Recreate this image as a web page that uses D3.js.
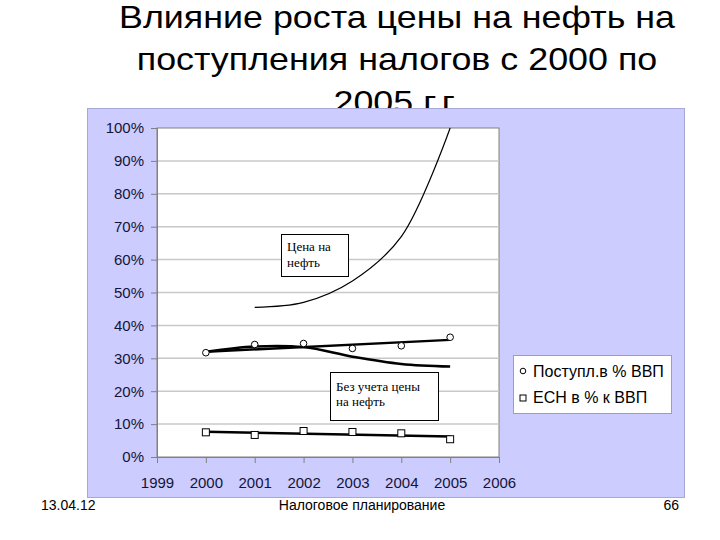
<!DOCTYPE html>
<html><head><meta charset="utf-8">
<script src="https://cdn.jsdelivr.net/npm/d3@7"></script>
<style>body{margin:0;background:#fff;}svg{display:block;}</style>
</head><body>
<script>
const titleLines = ["Влияние роста цены на нефть на", "поступления налогов с 2000 по", "2005 г.г."];
const years = [2000, 2001, 2002, 2003, 2004, 2005];
const revenue = [31.7, 34.2, 34.5, 33.0, 33.8, 36.4];        // Поступл.в % ВВП
const esn = [7.5, 6.7, 7.9, 7.6, 7.2, 5.4];                   // ЕСН в % к ВВП
const trendYears = [2000, 2005];
const revenueTrend = [32.0, 35.6];
const esnTrend = [7.7, 6.2];
const withoutOil = [32.0, 33.6, 33.4, 30.5, 28.3, 27.5];      // Без учета цены на нефть
const oilYears = [2001, 2002, 2003, 2004, 2005];
const oilPrice = [45.5, 47.0, 53.5, 67.0, 100.0];             // Цена на нефть
const xTicks = [1999, 2000, 2001, 2002, 2003, 2004, 2005, 2006];
const yTicks = [0, 10, 20, 30, 40, 50, 60, 70, 80, 90, 100];
const legendLabels = ["Поступл.в % ВВП", "ЕСН в % к ВВП"];
const footer = ["13.04.12", "Налоговое планирование", "66"];

const W = 720, H = 540;
const SANS = "'Liberation Sans', Arial, sans-serif";
const SERIF = "'Liberation Serif', 'DejaVu Serif', 'Times New Roman', serif";
const svg = d3.select("body").append("svg").attr("width", W).attr("height", H);

// Title (slightly stretched horizontally like the slide)
svg.append("g").attr("transform", "translate(397,0) scale(1.12,1)")
  .selectAll("text").data(titleLines).join("text")
  .attr("x", 0).attr("y", (d, i) => 28 + i * 42.5)
  .attr("text-anchor", "middle")
  .attr("font-family", SANS)
  .attr("font-size", 32).attr("fill", "#000").text(d => d);

// Chart area
svg.append("rect").attr("x", 87.5).attr("y", 108.5).attr("width", 597).attr("height", 389)
  .attr("fill", "#ccccff").attr("stroke", "#a8a8d8").attr("stroke-width", 1);

const x = d3.scaleLinear().domain([1999, 2006]).range([157, 499]);
const y = d3.scaleLinear().domain([0, 100]).range([457, 128]);

// Plot area
svg.append("rect").attr("x", 157).attr("y", 128).attr("width", 342).attr("height", 329)
  .attr("fill", "#fff").attr("stroke", "#808080").attr("stroke-width", 1);

// Gridlines
svg.append("g").selectAll("line").data(yTicks.filter(d => d > 0 && d < 100)).join("line")
  .attr("x1", 157).attr("x2", 499).attr("y1", d => y(d)).attr("y2", d => y(d))
  .attr("stroke", "#c8c8c8").attr("stroke-width", 1.5);

// Axes
const yAxis = svg.append("g").attr("transform", "translate(157,0)")
  .call(d3.axisLeft(y).tickValues(yTicks).tickFormat(d => d + "%").tickSize(6).tickPadding(7));
const xAxis = svg.append("g").attr("transform", "translate(0,457)")
  .call(d3.axisBottom(x).tickValues(xTicks).tickFormat(d3.format("d")).tickSize(6).tickPadding(14));
[yAxis, xAxis].forEach(a => {
  a.select(".domain").attr("stroke", "#808080");
  a.selectAll(".tick line").attr("stroke", "#808080");
  a.selectAll("text").attr("font-family", SANS)
    .attr("font-size", 15).attr("fill", "#14143a");
});

// Lines
const line = d3.line().x(d => x(d[0])).y(d => y(d[1]));
const smooth = d3.line().x(d => x(d[0])).y(d => y(d[1])).curve(d3.curveCatmullRom.alpha(0.5));

svg.append("path").datum(oilYears.map((yr, i) => [yr, oilPrice[i]]))
  .attr("d", smooth).attr("fill", "none").attr("stroke", "#000").attr("stroke-width", 1.2);
svg.append("path").datum(years.map((yr, i) => [yr, withoutOil[i]]))
  .attr("d", smooth).attr("fill", "none").attr("stroke", "#000").attr("stroke-width", 2.5);
svg.append("path").datum(trendYears.map((yr, i) => [yr, revenueTrend[i]]))
  .attr("d", line).attr("fill", "none").attr("stroke", "#000").attr("stroke-width", 2.5);
svg.append("path").datum(trendYears.map((yr, i) => [yr, esnTrend[i]]))
  .attr("d", line).attr("fill", "none").attr("stroke", "#000").attr("stroke-width", 2.5);

// Markers
svg.append("g").selectAll("circle").data(years.map((yr, i) => [yr, revenue[i]])).join("circle")
  .attr("cx", d => x(d[0])).attr("cy", d => y(d[1])).attr("r", 3.3)
  .attr("fill", "#fff").attr("stroke", "#000").attr("stroke-width", 1);
svg.append("g").selectAll("rect").data(years.map((yr, i) => [yr, esn[i]])).join("rect")
  .attr("x", d => x(d[0]) - 3.5).attr("y", d => y(d[1]) - 3.5).attr("width", 7).attr("height", 7)
  .attr("fill", "#fff").attr("stroke", "#000").attr("stroke-width", 1);

// Annotation boxes
function note(bx, by, bw, bh, lines, base, step) {
  const g = svg.append("g");
  g.append("rect").attr("x", bx + 0.5).attr("y", by + 0.5).attr("width", bw).attr("height", bh)
    .attr("fill", "#fff").attr("stroke", "#000").attr("stroke-width", 1);
  g.selectAll("text").data(lines).join("text")
    .attr("x", bx + 6).attr("y", (d, i) => by + base + i * step)
    .attr("font-family", SERIF).attr("font-size", 13)
    .attr("fill", "#000").text(d => d);
}
note(281, 234, 67, 42, ["Цена на", "нефть"], 17, 16);
note(330, 372, 108, 48, ["Без учета цены", "на нефть"], 19, 15);

// Legend
const lg = svg.append("g");
lg.append("rect").attr("x", 513.5).attr("y", 355.5).attr("width", 158).attr("height", 58)
  .attr("fill", "#fff").attr("stroke", "#a0a0a0");
lg.append("circle").attr("cx", 523).attr("cy", 371).attr("r", 2.8).attr("fill", "#fff").attr("stroke", "#000");
lg.append("rect").attr("x", 520).attr("y", 395).attr("width", 6).attr("height", 6).attr("fill", "#fff").attr("stroke", "#000");
lg.selectAll("text").data(legendLabels).join("text")
  .attr("x", 533).attr("y", (d, i) => 377 + i * 26)
  .attr("font-family", SANS).attr("font-size", 16)
  .attr("fill", "#000").text(d => d);

// Footer
const fy = 510;
const ft = svg.append("g").attr("font-family", SANS).attr("font-size", 14).attr("fill", "#000");
ft.append("text").attr("x", 41).attr("y", fy).text(footer[0]);
ft.append("text").attr("x", 362).attr("y", fy).attr("text-anchor", "middle").text(footer[1]);
ft.append("text").attr("x", 679).attr("y", fy).attr("text-anchor", "end").text(footer[2]);
</script>
</body></html>
